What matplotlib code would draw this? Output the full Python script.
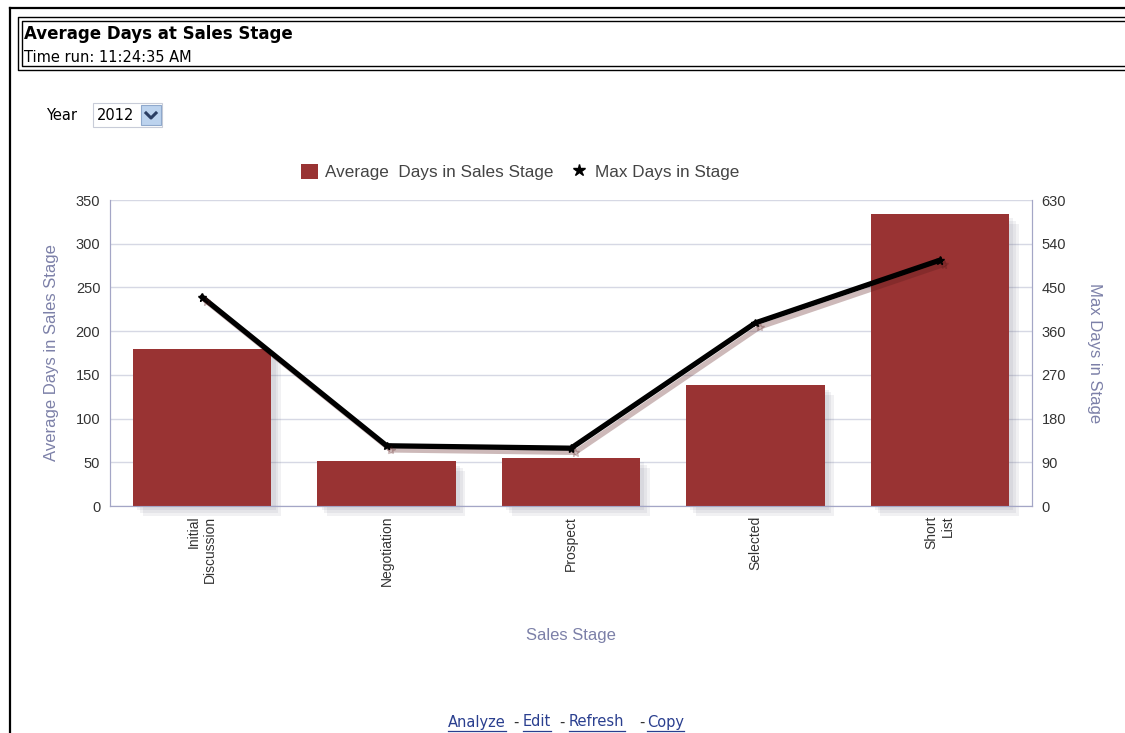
import matplotlib
matplotlib.use("Agg")
import matplotlib.pyplot as plt
import matplotlib.patheffects as pe
from matplotlib.patches import Rectangle
from matplotlib.lines import Line2D

# data
stages = ["Initial\nDiscussion", "Negotiation", "Prospect", "Selected", "Short\nList"]
avg_days = [180, 51, 55, 138, 334]
max_days = [430, 124, 119, 377, 506]
left_ticks = [0, 50, 100, 150, 200, 250, 300, 350]
right_ticks = [0, 90, 180, 270, 360, 450, 540, 630]

W, H = 1125, 733
bar_color = "#993333"
label_color = "#7c80a8"
tick_color = "#333333"
axis_color = "#a4a6c6"
grid_color = "#d6d8e4"

plt.rcParams["font.family"] = ["Liberation Sans", "DejaVu Sans"]

fig = plt.figure(figsize=(W / 100, H / 100), dpi=100)


def px(x, y):
    # pixel coords (from top-left) -> figure fraction
    return x / W, 1 - y / H


# page frame and title box
fig.add_artist(Line2D([10 / W, 10 / W], [0, 1 - 8 / H], color="black", lw=1.6))
fig.add_artist(Line2D([10 / W, 1], [1 - 8 / H, 1 - 8 / H], color="black", lw=1.6))
for x0, y0, y1 in [(18, 17, 70), (22, 21, 66)]:
    fig.add_artist(Line2D([1, x0 / W, x0 / W, 1], [1 - y0 / H, 1 - y0 / H, 1 - y1 / H, 1 - y1 / H],
                          color="black", lw=1.0))

fig.text(*px(24, 34), "Average Days at Sales Stage", fontsize=12, fontweight="bold",
         family="DejaVu Sans", va="center", ha="left")
fig.text(*px(24, 57), "Time run: 11:24:35 AM", fontsize=10.5, family="DejaVu Sans",
         va="center", ha="left")

# year selector
fig.text(*px(46, 115), "Year", fontsize=10.5, family="DejaVu Sans", va="center", ha="left")
fig.add_artist(Rectangle(px(93, 127), 69 / W, 24 / H, facecolor="white",
                         edgecolor="#c8ccd8", lw=0.8))
fig.text(*px(97, 115), "2012", fontsize=10.5, family="DejaVu Sans", va="center", ha="left")
fig.add_artist(Rectangle(px(141, 125), 20 / W, 20 / H, facecolor="#bcd3ee",
                         edgecolor="#8fa9cc", lw=0.8))
fig.add_artist(Line2D([146 / W, 151 / W, 156 / W], [1 - 113 / H, 1 - 118 / H, 1 - 113 / H],
                      color="#2b3e63", lw=2.2))

# chart
ax = fig.add_axes([110 / W, (H - 506) / H, 922 / W, 306 / H])
x = list(range(len(stages)))
bars = ax.bar(x, avg_days, width=0.75, color=bar_color, zorder=3)
shadow = [pe.SimplePatchShadow(offset=(d, -d), shadow_rgbFace="#6a6a80", alpha=0.09)
          for d in (7, 5, 3)]
for b in bars:
    b.set_clip_on(False)
    b.set_path_effects(shadow + [pe.Normal()])
ax.set_xlim(-0.5, len(stages) - 0.5)
ax.set_ylim(0, 350)
ax.set_yticks(left_ticks)
ax.set_xticks(x)
ax.set_xticklabels(stages, rotation=90, multialignment="right", fontsize=10, color=tick_color)
ax.tick_params(axis="x", length=0, pad=7)
ax.tick_params(axis="y", length=0, labelsize=10.5, labelcolor=tick_color, pad=7)
ax.grid(axis="y", color=grid_color, lw=1, zorder=0)
ax.set_axisbelow(True)
for s in ["left", "right", "bottom"]:
    ax.spines[s].set_color(axis_color)
ax.spines["top"].set_visible(False)
ax.set_ylabel("Average Days in Sales Stage", fontsize=12, color=label_color, labelpad=12)
ax.set_xlabel("Sales Stage", fontsize=12, color=label_color, labelpad=30)

ax2 = ax.twinx()
line, = ax2.plot(x, max_days, color="black", lw=3.8, marker="*", markersize=6, zorder=4)
line.set_path_effects([pe.SimpleLineShadow(offset=(3, -3), shadow_color="#5a1a1a", alpha=0.3),
                       pe.Normal()])
ax2.set_ylim(0, 630)
ax2.set_yticks(right_ticks)
ax2.tick_params(axis="y", length=0, labelsize=10.5, labelcolor=tick_color, pad=7)
for s in ["left", "right", "bottom"]:
    ax2.spines[s].set_color(axis_color)
ax2.spines["top"].set_visible(False)
ax2.set_ylabel("Max Days in Stage", fontsize=12, color=label_color, rotation=270, labelpad=26)

# legend with plain proxies (no shadows)
proxies = [Rectangle((0, 0), 1, 1, facecolor=bar_color),
           Line2D([], [], color="black", marker="*", markersize=9, lw=0)]
fig.legend(proxies, ["Average  Days in Sales Stage", "Max Days in Stage"], loc="center", ncol=2,
           bbox_to_anchor=px(520, 172), frameon=False, fontsize=12.3,
           handlelength=1.0, handleheight=1.0, handletextpad=0.4, columnspacing=1.0,
           labelcolor="#444444")

# links at the bottom
link_color = "#2a3f8f"
fig.canvas.draw()
renderer = fig.canvas.get_renderer()
for word, lx in [("Analyze", 448), ("Edit", 523), ("Refresh", 569), ("Copy", 647)]:
    t = fig.text(*px(lx, 722), word, fontsize=10.5, family="DejaVu Sans", color=link_color,
                 va="center", ha="left")
    w = t.get_window_extent(renderer).width
    fig.add_artist(Line2D([lx / W, (lx + w) / W], [1 - 731 / H, 1 - 731 / H],
                          color=link_color, lw=0.9))
for dx in (513, 559, 639):
    fig.text(*px(dx, 722), "-", fontsize=10.5, family="DejaVu Sans", color="#333333",
             va="center", ha="left")

fig.savefig("out.png", dpi=100)
